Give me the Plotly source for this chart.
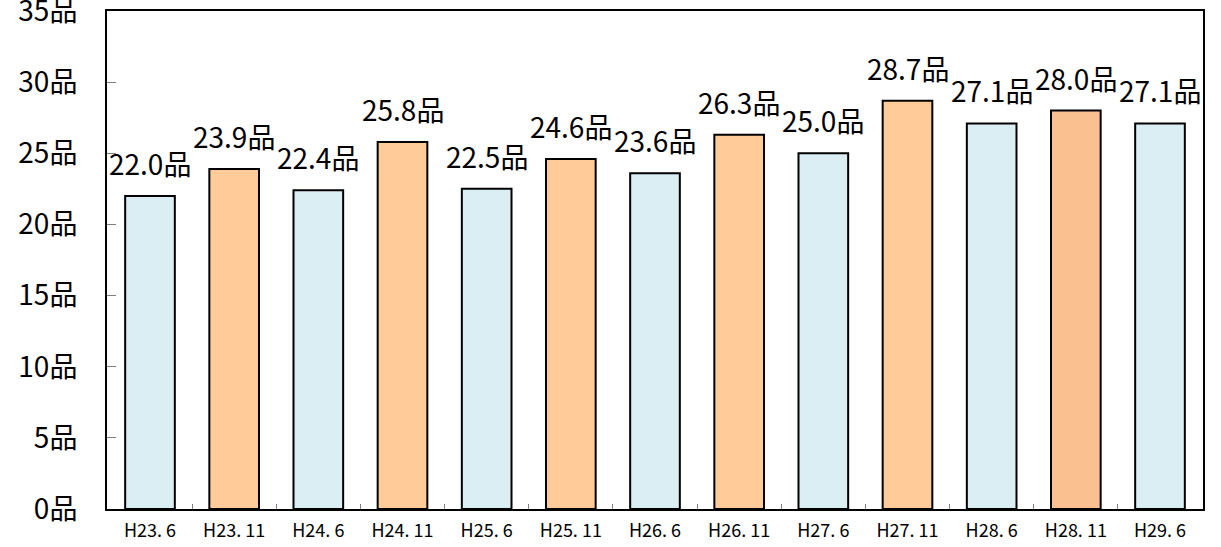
import plotly.graph_objects as go

categories = ["H23. 6", "H23. 11", "H24. 6", "H24. 11", "H25. 6", "H25. 11", "H26. 6",
              "H26. 11", "H27. 6", "H27. 11", "H28. 6", "H28. 11", "H29. 6"]
values = [22.0, 23.9, 22.4, 25.8, 22.5, 24.6, 23.6, 26.3, 25.0, 28.7, 27.1, 28.0, 27.1]
bar_colors = ["#DAEEF3", "#FFCC99", "#DAEEF3", "#FFCC99", "#DAEEF3", "#FFCC99", "#DAEEF3",
              "#FFCC99", "#DAEEF3", "#FFCC99", "#DAEEF3", "#FAC090", "#DAEEF3"]

font_family = "Noto Sans CJK JP"

fig = go.Figure(go.Bar(
    x=categories, y=values,
    marker=dict(color=bar_colors, line=dict(color="black", width=2)),
    cliponaxis=False,
    hoverinfo="x+y",
))

for c, v in zip(categories, values):
    fig.add_annotation(
        x=c, y=v, text=f"{v:.1f}品", showarrow=False,
        xanchor="center", yanchor="bottom", yshift=11,
        font=dict(family=font_family, size=28, color="black"),
    )

fig.update_layout(
    width=1221, height=547,
    margin=dict(l=107, r=18, t=11, b=38),
    paper_bgcolor="white", plot_bgcolor="white",
    bargap=0.41,
    showlegend=False,
    font=dict(family=font_family, color="black"),
)
fig.update_xaxes(
    automargin=False,
    showline=True, linecolor="black", linewidth=2, mirror=True,
    ticks="inside", tickson="boundaries", ticklen=5, tickcolor="#808080",
    ticklabelstandoff=4,
    tickfont=dict(size=18, family=font_family), showgrid=False,
)
fig.update_yaxes(
    automargin=False, ticklabeloverflow="allow",
    range=[0, 35], dtick=5, ticksuffix="品",
    showline=True, linecolor="black", linewidth=2, mirror=True,
    ticks="inside", ticklen=9, tickcolor="#808080", ticklabelstandoff=22,
    tickfont=dict(size=28, family=font_family), showgrid=False, zeroline=False,
)

fig.write_html(
    "out.html",
    config={"displayModeBar": False},
    post_script="document.body.style.margin='0';document.body.style.overflow='hidden';",
)
